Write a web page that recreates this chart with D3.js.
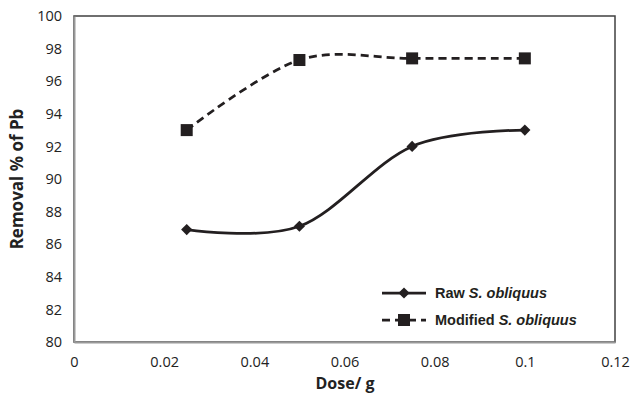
<!DOCTYPE html>
<html>
<head>
<meta charset="utf-8">
<script src="https://cdn.jsdelivr.net/npm/d3@7"></script>
<style>
  body { margin: 0; background: #fff; }
  text { font-family: "Open Sans", "Liberation Sans", sans-serif; }
</style>
</head>
<body>
<svg id="chart" width="630" height="397"></svg>
<script>
// values
const doses = [0.025, 0.05, 0.075, 0.1];
const rawRemoval = [86.9, 87.1, 92.0, 93.0];
const modifiedRemoval = [93.0, 97.3, 97.4, 97.4];
const xTicks = [0, 0.02, 0.04, 0.06, 0.08, 0.1, 0.12];
const yTicks = [80, 82, 84, 86, 88, 90, 92, 94, 96, 98, 100];

const svg = d3.select("#chart");
const plotL = 74, plotR = 615, plotT = 16, plotB = 342;

const x = d3.scaleLinear().domain([0, 0.12]).range([plotL, plotR]);
const y = d3.scaleLinear().domain([80, 100]).range([plotB, plotT]);

// plot frame
svg.append("rect")
  .attr("x", plotL).attr("y", plotT)
  .attr("width", plotR - plotL).attr("height", plotB - plotT)
  .attr("fill", "none").attr("stroke", "#404040").attr("stroke-width", 1.5);

// x axis
const xAxis = svg.append("g")
  .attr("transform", "translate(0," + plotB + ")")
  .call(d3.axisBottom(x).tickValues(xTicks).tickSize(0).tickPadding(15)
    .tickFormat(d => String(+d.toFixed(2))));
xAxis.select(".domain").attr("stroke", "#999").attr("stroke-width", 2);
xAxis.selectAll("text").attr("font-size", 14.5).attr("fill", "#222")
  .style("font-family", "'Open Sans', sans-serif");

// y axis
const yAxis = svg.append("g")
  .attr("transform", "translate(" + plotL + ",0)")
  .call(d3.axisLeft(y).tickValues(yTicks).tickSize(0).tickPadding(12));
yAxis.select(".domain").attr("stroke", "#999").attr("stroke-width", 2);
yAxis.selectAll("text").attr("font-size", 14.5).attr("fill", "#222")
  .style("font-family", "'Open Sans', sans-serif");

// axis titles
svg.append("text")
  .attr("x", 345).attr("y", 389)
  .attr("text-anchor", "middle")
  .attr("font-size", 16).attr("font-weight", "bold").attr("fill", "#222")
  .text("Dose/ g");

svg.append("text")
  .attr("transform", "translate(23," + ((plotT + plotB) / 2) + ") rotate(-90)")
  .attr("text-anchor", "middle")
  .attr("font-size", 17).attr("font-weight", "bold").attr("fill", "#222")
  .text("Removal % of Pb");

const line = d3.line()
  .x(d => x(d[0]))
  .y(d => y(d[1]))
  .curve(d3.curveCardinal.tension(0));

const rawPts = doses.map((d, i) => [d, rawRemoval[i]]);
const modPts = doses.map((d, i) => [d, modifiedRemoval[i]]);

svg.append("path").datum(rawPts).attr("d", line)
  .attr("fill", "none").attr("stroke", "#231f20").attr("stroke-width", 2.75);
svg.append("path").datum(modPts).attr("d", line)
  .attr("fill", "none").attr("stroke", "#231f20").attr("stroke-width", 2.75)
  .attr("stroke-dasharray", "8,5");

const diamond = d3.symbol().type(d3.symbolDiamond2).size(80);
svg.selectAll(".raw-pt").data(rawPts).enter().append("path")
  .attr("transform", d => "translate(" + x(d[0]) + "," + y(d[1]) + ")")
  .attr("d", diamond).attr("fill", "#231f20");

svg.selectAll(".mod-pt").data(modPts).enter().append("rect")
  .attr("x", d => x(d[0]) - 6).attr("y", d => y(d[1]) - 6)
  .attr("width", 12).attr("height", 12).attr("fill", "#231f20");

// legend
const legend = svg.append("g").attr("transform", "translate(382,293)");
const items = [
  { name: "Raw ", dash: null, marker: "diamond" },
  { name: "Modified ", dash: "8,5", marker: "square" }
];
items.forEach((it, i) => {
  const g = legend.append("g").attr("transform", "translate(0," + (i * 27) + ")");
  g.append("line").attr("x1", 0).attr("x2", 44).attr("y1", 0).attr("y2", 0)
    .attr("stroke", "#231f20").attr("stroke-width", 2.75)
    .attr("stroke-dasharray", it.dash);
  if (it.marker === "diamond") {
    g.append("path").attr("transform", "translate(22,0)").attr("d", diamond).attr("fill", "#231f20");
  } else {
    g.append("rect").attr("x", 16).attr("y", -6).attr("width", 12).attr("height", 12).attr("fill", "#231f20");
  }
  const t = g.append("text").attr("x", 53).attr("y", 5)
    .attr("font-size", 14.5).attr("font-weight", "bold").attr("fill", "#231f20")
    .style("font-family", "'Liberation Sans', Arial, sans-serif");
  t.append("tspan").text(it.name);
  t.append("tspan").attr("font-style", "italic").text("S. obliquus");
});
</script>
</body>
</html>
